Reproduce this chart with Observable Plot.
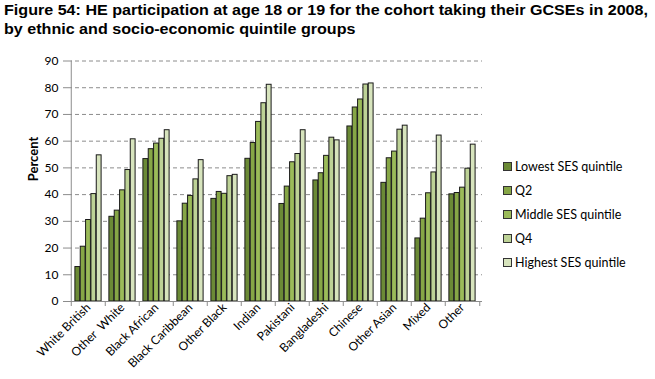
<!DOCTYPE html>
<html><head><meta charset="utf-8">
<script src="https://cdn.jsdelivr.net/npm/d3@7"></script>
<script src="https://cdn.jsdelivr.net/npm/@observablehq/plot@0.6"></script>
<style>
body{margin:0;background:#fff;}
#wrap{position:relative;width:655px;height:379px;overflow:hidden;}
#title{font-family:"Liberation Sans",Arial,sans-serif;font-weight:bold;font-size:15px;line-height:19px;padding:0 0 0 4px;height:42px;color:#000;white-space:nowrap;transform-origin:0 0;}
#title span{display:inline-block;}
#legend{position:absolute;left:503px;top:154px;font-family:Lato,"Open Sans",sans-serif;font-size:12.5px;color:#000;}
#legend .it{display:flex;align-items:center;height:24px;}
#legend .sw{width:7px;height:7px;border:1px solid #333;margin-right:3px;}
svg text{font-family:Lato,"Open Sans",sans-serif;}
</style></head>
<body><div id="wrap"><div id="title"><span id="t1">Figure 54: HE participation at age 18 or 19 for the cohort taking their GCSEs in 2008,</span><br><span>by ethnic and socio-economic quintile groups</span></div><div id="chart"></div><div id="legend"></div></div>
<script>
const groups = ["White British","Other  White","Black African","Black Caribbean","Other Black","Indian","Pakistani","Bangladeshi","Chinese","Other Asian","Mixed","Other"];
const quintiles = ["Lowest SES quintile","Q2","Middle SES quintile","Q4","Highest SES quintile"];
const lowest  = [12.9,31.7,53.3,30.0,38.4,53.4,36.5,45.3,65.5,44.4,23.6,40.1];
const q2      = [20.5,34.0,57.0,36.6,41.0,59.3,43.0,48.0,72.6,53.6,31.0,40.6];
const middle  = [30.5,41.6,59.1,39.5,40.3,67.2,52.1,54.5,75.6,56.1,40.5,42.6];
const q4      = [40.2,49.2,60.9,45.7,46.9,74.2,55.2,61.3,81.2,64.3,48.3,49.7];
const highest = [54.7,60.7,64.1,52.9,47.4,81.1,64.1,60.3,81.6,65.8,62.1,58.7];
const yTicks = [0,10,20,30,40,50,60,70,80,90];
const colors = ["#6B8A36","#86A646","#9BBB59","#BDD296","#D7E4BD"];

// fit the title's first line to the reference width
const t1 = document.getElementById("t1");
const tw = t1.getBoundingClientRect().width;
const sc = Math.min(1.2, 644 / tw);
document.getElementById("title").style.transform = `scaleX(${sc})`;
document.getElementById("title").style.paddingLeft = (4/sc)+"px";

const series = [lowest,q2,middle,q4,highest];
const rows = [];
series.forEach((vals,qi)=>vals.forEach((v,gi)=>rows.push({group:groups[gi],quintile:quintiles[qi],value:v})));

const W=655,H=337,mL=68,mR=173,mT=18.5,mB=78;
const band=(W-mL-mR)/groups.length;
const groupInner=0.774*band, off=(band-groupInner)/2, bw=groupInner/quintiles.length;

const barMarks = quintiles.map((q,qi)=>Plot.barY(rows.filter(d=>d.quintile===q),{
  x:"group", y:"value", fill:"quintile", stroke:"#1a1a1a", strokeWidth:1,
  insetLeft: off+qi*bw, insetRight: band-off-(qi+1)*bw
}));

const chart = Plot.plot({
  width:W, height:H, marginLeft:mL, marginRight:mR, marginTop:mT, marginBottom:mB,
  style:{fontSize:"12px", background:"transparent"},
  x:{domain:groups, padding:0, axis:null},
  y:{domain:[0,90], axis:null},
  color:{domain:quintiles, range:colors},
  marks:[
    Plot.ruleY(yTicks.filter(d=>d>0),{stroke:"#8c8c8c",strokeDasharray:"4,3",strokeWidth:1}),
    ...barMarks,
    Plot.ruleY([0],{stroke:"#8c8c8c",strokeWidth:1}),
    Plot.ruleX([groups[0]],{dx:-band/2,stroke:"#8c8c8c",strokeWidth:1}),
    Plot.axisY({ticks:yTicks, tickSize:5, tickPadding:5, stroke:"#8c8c8c", fill:"#000", fontSize:12, label:null}),
    Plot.ruleX(groups,{x:d=>d, y1:0, y2:0, insetTop:0, insetBottom:-5, dx:-band/2, stroke:"#8c8c8c"}),
    Plot.ruleX([groups[groups.length-1]],{x:d=>d, y1:0, y2:0, insetTop:0, insetBottom:-5, dx:band/2, stroke:"#8c8c8c"}),
    Plot.axisX({tickSize:0, tickRotate:-45, tickPadding:4, fontSize:12, label:null, fill:"#000"}),
    Plot.text(["Percent"],{frameAnchor:"left", dx:-35, rotate:-90, fontWeight:"bold", fontSize:13, fill:"#000"})
  ]
});
document.getElementById("chart").appendChild(chart);

const leg=document.getElementById("legend");
quintiles.forEach((q,i)=>{
  const it=document.createElement("div");it.className="it";
  const sw=document.createElement("div");sw.className="sw";sw.style.background=colors[i];
  const t=document.createElement("span");t.textContent=q;
  it.appendChild(sw);it.appendChild(t);leg.appendChild(it);
});
</script></body></html>
